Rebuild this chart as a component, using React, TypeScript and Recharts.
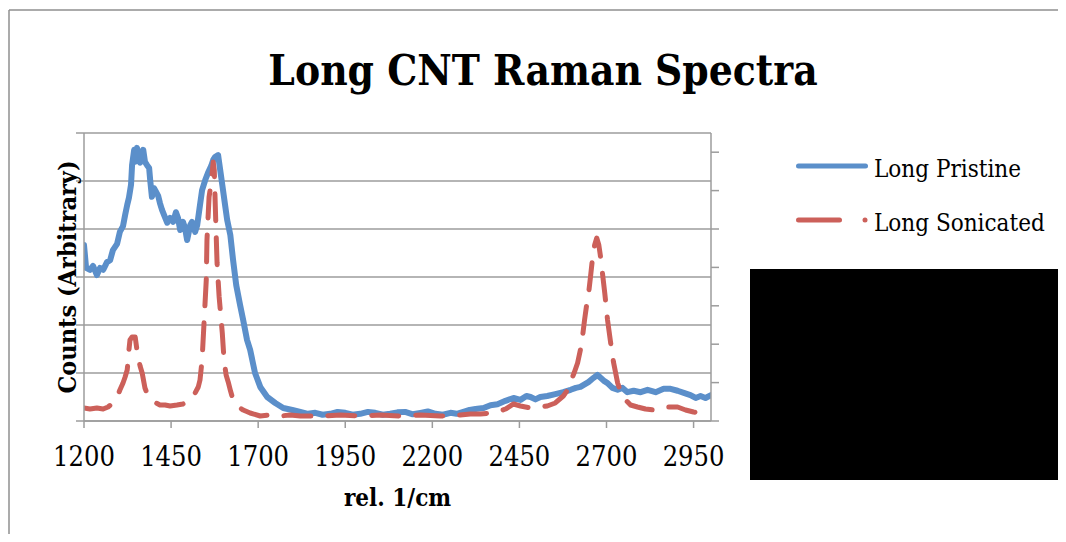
import React from 'react';
import { LineChart, Line, XAxis, YAxis, ReferenceLine, Legend } from 'recharts';

const TITLE = 'Long CNT Raman Spectra';
const X_LABEL = 'rel. 1/cm';
const Y_LABEL = 'Counts (Arbitrary)';
const SERIES_NAMES = ['Long Pristine', 'Long Sonicated'];
const X_TICKS = [1200, 1450, 1700, 1950, 2200, 2450, 2700, 2950];
const LEFT_TICKS = [0, 1000, 2000, 3000, 4000, 5000, 6000];
const RIGHT_TICKS = [0, 1000, 2000, 3000, 4000, 5000, 6000, 7000];

const pristineShift = [1200, 1206, 1217, 1226, 1237, 1246, 1255, 1266, 1275, 1283, 1295, 1303, 1312, 1318, 1324, 1329, 1335, 1338, 1344, 1347, 1352, 1358, 1361, 1370, 1375, 1381, 1387, 1390, 1395, 1401, 1407, 1413, 1418, 1424, 1430, 1439, 1447, 1456, 1464, 1470, 1476, 1484, 1490, 1496, 1505, 1510, 1519, 1525, 1533, 1539, 1548, 1556, 1565, 1571, 1576, 1585, 1591, 1597, 1605, 1611, 1620, 1628, 1637, 1648, 1657, 1668, 1677, 1691, 1706, 1726, 1749, 1772, 1798, 1821, 1843, 1864, 1885, 1907, 1928, 1950, 1971, 1993, 2015, 2036, 2058, 2079, 2100, 2122, 2144, 2166, 2187, 2209, 2230, 2252, 2270, 2289, 2307, 2324, 2347, 2367, 2387, 2410, 2433, 2453, 2470, 2482, 2496, 2510, 2530, 2553, 2576, 2597, 2612, 2625, 2648, 2663, 2674, 2683, 2694, 2703, 2717, 2732, 2746, 2760, 2778, 2798, 2818, 2841, 2864, 2884, 2904, 2924, 2941, 2956, 2970, 2984, 3000];
const pristineCounts = [3667, 3190, 3150, 3230, 3040, 3190, 3150, 3310, 3350, 3560, 3690, 3940, 4060, 4290, 4500, 4650, 4920, 5330, 5650, 5400, 5690, 5560, 5380, 5650, 5400, 5330, 5270, 5020, 4670, 4850, 4770, 4690, 4540, 4400, 4290, 4130, 4230, 4150, 4350, 4230, 3980, 4150, 4020, 3770, 4080, 4150, 3940, 4080, 4500, 4810, 5020, 5170, 5310, 5440, 5500, 5540, 5230, 4920, 4500, 4190, 3880, 3350, 2830, 2420, 2100, 1690, 1480, 1000, 710, 500, 375, 270, 230, 190, 150, 170, 130, 150, 190, 170, 130, 150, 190, 170, 130, 150, 180, 190, 140, 170, 200, 150, 130, 170, 150, 190, 230, 250, 270, 330, 350, 420, 480, 440, 520, 500, 450, 500, 520, 560, 600, 650, 690, 710, 810, 900, 960, 900, 830, 790, 690, 650, 690, 600, 630, 600, 650, 600, 670, 670, 630, 580, 540, 480, 520, 480, 540];

const sonicatedShift = [1200, 1217, 1237, 1255, 1269, 1283, 1295, 1303, 1312, 1318, 1324, 1326, 1329, 1332, 1338, 1347, 1352, 1355, 1361, 1367, 1375, 1384, 1395, 1407, 1418, 1433, 1447, 1467, 1484, 1499, 1510, 1519, 1528, 1533, 1539, 1545, 1551, 1553, 1559, 1565, 1571, 1574, 1576, 1579, 1582, 1588, 1597, 1602, 1608, 1614, 1620, 1628, 1643, 1657, 1677, 1706, 1734, 1763, 1792, 1821, 1878, 1936, 1993, 2051, 2108, 2166, 2223, 2280, 2309, 2338, 2367, 2387, 2410, 2433, 2453, 2482, 2510, 2530, 2553, 2576, 2588, 2597, 2608, 2617, 2625, 2631, 2637, 2643, 2648, 2654, 2660, 2666, 2672, 2678, 2683, 2689, 2695, 2703, 2712, 2720, 2732, 2741, 2755, 2769, 2789, 2812, 2835, 2855, 2878, 2904, 2927, 2950, 2970, 3000];
const sonicatedCounts = [339, 312, 339, 312, 365, 469, 625, 807, 990, 1146, 1328, 1510, 1849, 2109, 2187, 2187, 1849, 1667, 1432, 1250, 859, 651, 547, 469, 417, 417, 391, 417, 443, 521, 599, 729, 885, 1068, 1588, 2630, 3672, 4713, 5833, 6198, 6745, 6536, 5885, 4974, 4114, 3229, 2292, 1588, 1198, 1016, 807, 547, 365, 286, 208, 130, 156, 130, 156, 130, 130, 156, 130, 156, 130, 156, 130, 156, 182, 182, 208, 234, 312, 443, 391, 339, 365, 391, 469, 651, 807, 1016, 1276, 1510, 1849, 2187, 2630, 3021, 3281, 3750, 4245, 4583, 4765, 4583, 4271, 3802, 3333, 2630, 2031, 1536, 990, 755, 547, 417, 365, 312, 286, 312, 365, 365, 286, 234, 208, 208];

const pristineData = pristineShift.map((x, i) => ({ shift: x, value: pristineCounts[i] }));
const sonicatedData = sonicatedShift.map((x, i) => ({ shift: x, value: sonicatedCounts[i] }));

const BLUE = '#5b8fca';
const RED = '#cc605a';
const AXIS = '#9c9c9c';
const FONT = '"DejaVu Serif Condensed", "DejaVu Serif", serif';
const W = 1058;
const H = 526;

const XTick = (props: any) => {
  const { x, y, payload } = props;
  return (
    <text x={x} y={y + 36} textAnchor="middle" fontFamily={FONT} fontSize={27} fill="#000" style={{ fontStretch: 'condensed' }}>
      {payload.value}
    </text>
  );
};

const EmptyTick = () => <g />;

const LegendContent = (props: any) => {
  const payload = props.payload || [];
  return (
    <svg width={280} height={100} style={{ display: 'block', overflow: 'visible' }}>
      {payload.map((p: any, i: number) => {
        const cy = i === 0 ? 26 : 80;
        const by = i === 0 ? 37 : 91;
        return (
          <g key={p.value}>
            {i === 0 ? (
              <line x1={8.5} x2={75.5} y1={cy} y2={cy} stroke={p.color} strokeWidth={5} strokeLinecap="round" />
            ) : (
              <g>
                <line x1={8.5} x2={49.5} y1={cy} y2={cy} stroke={p.color} strokeWidth={5} strokeLinecap="round" />
                <circle cx={75} cy={cy} r={2.5} fill={p.color} />
              </g>
            )}
            <text x={84} y={by} fontFamily={FONT} fontSize={24} fill="#000" style={{ fontStretch: 'condensed' }}>
              {p.value}
            </text>
          </g>
        );
      })}
    </svg>
  );
};

export default function App() {
  return (
    <div style={{ position: 'relative', width: W, height: H, overflow: 'hidden', background: '#fff' }}>
      <LineChart width={W} height={H} margin={{ top: 125, right: 335, bottom: 13, left: 0 }}>
        <XAxis
          dataKey="shift"
          type="number"
          domain={[1200, 3000]}
          ticks={X_TICKS}
          interval={0}
          allowDataOverflow
          height={100}
          tickSize={7}
          tickLine={{ stroke: AXIS, strokeWidth: 1.5 }}
          axisLine={{ stroke: AXIS, strokeWidth: 1.5 }}
          tick={<XTick />}
          label={(p: any) => {
            const vb = p.viewBox || { x: 76, y: 413, width: 627 };
            return (
              <text x={vb.x + vb.width / 2} y={vb.y + 85} textAnchor="middle" fontFamily={FONT} fontSize={24} fontWeight="bold" fill="#000" style={{ fontStretch: 'condensed' }}>
                {X_LABEL}
              </text>
            );
          }}
        />
        <YAxis
          yAxisId="left"
          width={76}
          domain={[0, 6000]}
          ticks={LEFT_TICKS}
          interval={0}
          tick={<EmptyTick />}
          tickSize={8}
          tickLine={{ stroke: AXIS, strokeWidth: 1.5 }}
          axisLine={{ stroke: AXIS, strokeWidth: 1.5 }}
          label={(p: any) => {
            const vb = p.viewBox || { x: 0, y: 125, width: 76, height: 288 };
            const cx = vb.x + 59;
            const cy = vb.y + vb.height / 2;
            return (
              <text x={cx} y={cy} transform={`rotate(-90, ${cx}, ${cy})`} textAnchor="middle" dominantBaseline="central" fontFamily={FONT} fontSize={25} fontWeight="bold" fill="#000" style={{ fontStretch: 'condensed' }}>
                {Y_LABEL}
              </text>
            );
          }}
        />
        <YAxis
          yAxisId="right"
          orientation="right"
          width={20}
          domain={[0, 7500]}
          ticks={RIGHT_TICKS}
          interval={0}
          tick={<EmptyTick />}
          tickSize={8}
          tickLine={{ stroke: AXIS, strokeWidth: 1.5 }}
          axisLine={{ stroke: AXIS, strokeWidth: 1.5 }}
        />
        {LEFT_TICKS.map((t) => (
          <ReferenceLine key={`grid-${t}`} yAxisId="left" y={t} stroke={AXIS} strokeWidth={1.5} ifOverflow="extendDomain" />
        ))}
        <Legend
          layout="vertical"
          align="center"
          verticalAlign="middle"
          wrapperStyle={{ left: 782, top: 132, width: 280, height: 100 }}
          content={<LegendContent />}
        />
        <Line
          yAxisId="left"
          data={pristineData}
          dataKey="value"
          name={SERIES_NAMES[0]}
          type="linear"
          stroke={BLUE}
          strokeWidth={6}
          strokeLinejoin="round"
          strokeLinecap="round"
          dot={false}
          isAnimationActive={false}
        />
        <Line
          yAxisId="right"
          data={sonicatedData}
          dataKey="value"
          name={SERIES_NAMES[1]}
          type="linear"
          stroke={RED}
          strokeWidth={5}
          strokeDasharray="27 17"
          strokeLinejoin="round"
          strokeLinecap="round"
          dot={false}
          isAnimationActive={false}
        />
      </LineChart>
      <svg width={W} height={H} style={{ position: 'absolute', left: 0, top: 0, pointerEvents: 'none' }}>
        <line x1={1} y1={2} x2={W} y2={2} stroke="#8f8f8f" strokeWidth={1.5} />
        <line x1={1} y1={2} x2={1} y2={H} stroke="#8f8f8f" strokeWidth={1.5} />
        <text x={535} y={76.5} textAnchor="middle" fontFamily={FONT} fontSize={42} fontWeight="bold" fill="#000" style={{ fontStretch: 'condensed' }}>
          {TITLE}
        </text>
        <rect x={742} y={261} width={320} height={211} fill="#000" />
      </svg>
    </div>
  );
}
